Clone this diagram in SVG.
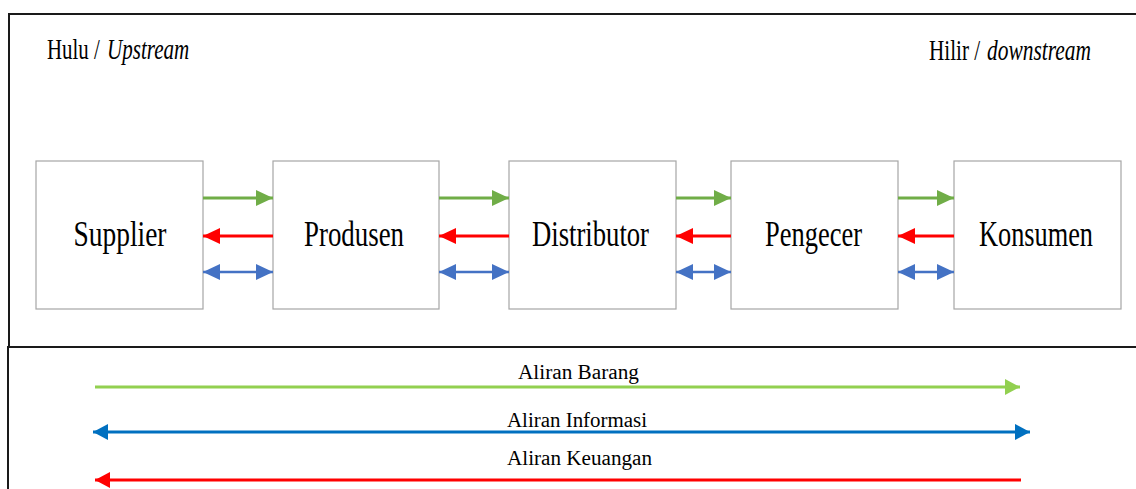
<svg xmlns="http://www.w3.org/2000/svg" width="1136" height="489" viewBox="0 0 1136 489">
<defs>
<style>
.frame{fill:none;stroke:#1a1a1a;stroke-width:2}
.box{fill:#fff;stroke:#a6a6a6;stroke-width:1.2}
.lbl{font-family:"Liberation Serif","Times New Roman",serif;fill:#000}
.node{font-size:35px;text-anchor:middle}
.hdr{font-size:29px}
.it{font-style:italic}
.leg{font-size:20px;text-anchor:middle}
.g{stroke:#70ad47;stroke-width:3;fill:none}
.r{stroke:#ff0000;stroke-width:3;fill:none}
.b{stroke:#4472c4;stroke-width:2.5;fill:none}
.lg{stroke:#92d050;stroke-width:3;fill:none}
.lb{stroke:#0070c0;stroke-width:3;fill:none}
.lr{stroke:#ff0000;stroke-width:3;fill:none}
</style>
<marker id="mg" markerUnits="userSpaceOnUse" viewBox="0 0 17 16" refX="17" refY="8" markerWidth="17" markerHeight="16" orient="auto"><path d="M0,0 L17,8 L0,16 Z" fill="#70ad47"/></marker>
<marker id="mr" markerUnits="userSpaceOnUse" viewBox="0 0 17 16" refX="17" refY="8" markerWidth="17" markerHeight="16" orient="auto"><path d="M0,0 L17,8 L0,16 Z" fill="#ff0000"/></marker>
<marker id="mb" markerUnits="userSpaceOnUse" viewBox="0 0 17 16" refX="17" refY="8" markerWidth="17" markerHeight="16" orient="auto-start-reverse"><path d="M0,0 L17,8 L0,16 Z" fill="#4472c4"/></marker>
<marker id="mlg" markerUnits="userSpaceOnUse" viewBox="0 0 15 16" refX="15" refY="8" markerWidth="15" markerHeight="16" orient="auto"><path d="M0,0 L15,8 L0,16 Z" fill="#92d050"/></marker>
<marker id="mlb" markerUnits="userSpaceOnUse" viewBox="0 0 15 16" refX="15" refY="8" markerWidth="15" markerHeight="16" orient="auto-start-reverse"><path d="M0,0 L15,8 L0,16 Z" fill="#0070c0"/></marker>
<marker id="mlr" markerUnits="userSpaceOnUse" viewBox="0 0 15 16" refX="15" refY="8" markerWidth="15" markerHeight="16" orient="auto"><path d="M0,0 L15,8 L0,16 Z" fill="#ff0000"/></marker>
</defs>
<rect width="1136" height="489" fill="#fff"/>
<g id="frames">
<path class="frame" d="M1136,14 H9 V347"/>
<path class="frame" d="M1136,347 H8 V489"/>
</g>
<g id="headers">
<text class="lbl hdr" transform="translate(47,59) scale(0.72,1)">Hulu /</text>
<text class="lbl hdr it" transform="translate(107,59) scale(0.726,1)">Upstream</text>
<text class="lbl hdr" transform="translate(929,60) scale(0.73,1)">Hilir /</text>
<text class="lbl hdr it" transform="translate(987,60) scale(0.74,1)">downstream</text>
</g>
<g id="supplier"><rect class="box" x="36" y="161" width="167" height="148"/><text class="lbl node" x="120" y="246" textLength="93" lengthAdjust="spacingAndGlyphs">Supplier</text></g>
<g id="produsen"><rect class="box" x="273" y="161" width="166" height="148"/><text class="lbl node" x="354" y="246" textLength="100" lengthAdjust="spacingAndGlyphs">Produsen</text></g>
<g id="distributor"><rect class="box" x="509" y="161" width="167" height="148"/><text class="lbl node" x="590.5" y="246" textLength="117" lengthAdjust="spacingAndGlyphs">Distributor</text></g>
<g id="pengecer"><rect class="box" x="731" y="161" width="167" height="148"/><text class="lbl node" x="813.5" y="246" textLength="97" lengthAdjust="spacingAndGlyphs">Pengecer</text></g>
<g id="konsumen"><rect class="box" x="954" y="161" width="167" height="148"/><text class="lbl node" x="1036" y="246" textLength="114" lengthAdjust="spacingAndGlyphs">Konsumen</text></g>
<g id="connectors">
<line class="g" x1="203" y1="198" x2="273" y2="198" marker-end="url(#mg)"/>
<line class="r" x1="273" y1="236" x2="203" y2="236" marker-end="url(#mr)"/>
<line class="b" x1="203" y1="272" x2="273" y2="272" marker-start="url(#mb)" marker-end="url(#mb)"/>
<line class="g" x1="439" y1="198" x2="509" y2="198" marker-end="url(#mg)"/>
<line class="r" x1="509" y1="236" x2="439" y2="236" marker-end="url(#mr)"/>
<line class="b" x1="439" y1="272" x2="509" y2="272" marker-start="url(#mb)" marker-end="url(#mb)"/>
<line class="g" x1="676" y1="198" x2="731" y2="198" marker-end="url(#mg)"/>
<line class="r" x1="731" y1="236" x2="676" y2="236" marker-end="url(#mr)"/>
<line class="b" x1="676" y1="272" x2="731" y2="272" marker-start="url(#mb)" marker-end="url(#mb)"/>
<line class="g" x1="898" y1="198" x2="954" y2="198" marker-end="url(#mg)"/>
<line class="r" x1="954" y1="236" x2="898" y2="236" marker-end="url(#mr)"/>
<line class="b" x1="898" y1="272" x2="954" y2="272" marker-start="url(#mb)" marker-end="url(#mb)"/>
</g>
<g id="legend">
<line class="lg" x1="95" y1="387" x2="1020" y2="387" marker-end="url(#mlg)"/>
<line class="lb" x1="93" y1="432" x2="1030" y2="432" marker-start="url(#mlb)" marker-end="url(#mlb)"/>
<line class="lr" x1="1021" y1="480" x2="95" y2="480" marker-end="url(#mlr)"/>
<text class="lbl leg" x="578.5" y="379" textLength="121" lengthAdjust="spacingAndGlyphs">Aliran Barang</text>
<text class="lbl leg" x="577" y="427" textLength="140" lengthAdjust="spacingAndGlyphs">Aliran Informasi</text>
<text class="lbl leg" x="579.5" y="465" textLength="145" lengthAdjust="spacingAndGlyphs">Aliran Keuangan</text>
</g>
</svg>
